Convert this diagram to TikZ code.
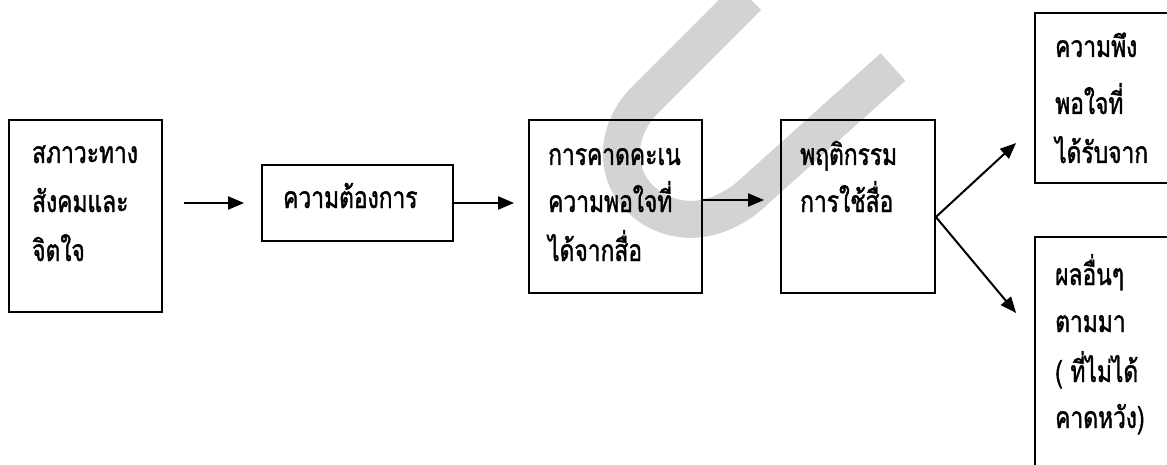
\documentclass[tikz,border=0pt]{standalone}
\usepackage{fontspec}
\newfontfamily\thaifont[Script=Thai, FakeStretch=0.76, FakeBold=1.3]{Loma}
\usetikzlibrary{arrows.meta,calc}
\definecolor{wm}{RGB}{211,211,211}
\tikzset{
  box/.style={draw, line width=1.8pt, inner sep=0pt},
  txt/.style={font=\thaifont\fontsize{30}{34}\selectfont, inner sep=0pt, anchor=base west},
  arr/.style={line width=2pt, -{Triangle[length=16pt,width=13pt]}}
}
\begin{document}
\begin{tikzpicture}[x=1pt,y=-1pt]
\useasboundingbox (0,0) rectangle (1167,465);
\begin{scope}
\clip (0,0) rectangle (1167,465);
% watermark band
\draw[wm, line width=37pt] (748,-3) -- (645,100) .. controls (612,133) and (612,185) .. (655,210)
  .. controls (688,228) and (722,218) .. (748,197) -- (893,67);
% boxes
\node[box, minimum width=153pt, minimum height=192pt] (b1) at (85.5,216) {};
\node[box, minimum width=191pt, minimum height=76pt] (b2) at (357.5,203) {};
\node[box, minimum width=173pt, minimum height=173pt] (b3) at (615.5,206.5) {};
\node[box, minimum width=154pt, minimum height=173pt] (b4) at (858,206.5) {};
\node[box, minimum width=132.5pt, minimum height=170pt] (b5) at (1101.25,98) {};
\node[box, minimum width=132.5pt, minimum height=243pt] (b6) at (1101.25,358.5) {};
\end{scope}
% texts
\node[txt] (t1a) at (32,163) {สภาวะทาง};
\node[txt] (t1b) at (32,212) {สังคมและ};
\node[txt] (t1c) at (32,261) {จิตใจ};
\node[txt] (t2a) at (283,208) {ความต้องการ};
\node[txt] (t3a) at (548,165) {การคาดคะเน};
\node[txt] (t3b) at (548,212) {ความพอใจที่};
\node[txt] (t3c) at (548,261) {ได้จากสื่อ};
\node[txt] (t4a) at (800,165) {พฤติกรรม};
\node[txt] (t4b) at (800,212) {การใช้สื่อ};
\node[txt] (t5a) at (1055,57) {ความพึง};
\node[txt] (t5b) at (1055,114) {พอใจที่};
\node[txt] (t5c) at (1055,163) {ได้รับจาก};
\node[txt] (t6a) at (1055,285) {ผลอื่นๆ};
\node[txt] (t6b) at (1055,332) {ตามมา};
\node[txt] (t6c) at (1055,382) {( ที่ไม่ได้};
\node[txt] (t6d) at (1055,428) {คาดหวัง)};
% connectors
\draw[arr, shorten <=21pt, shorten >=17pt] (b1.east |- b2.west) -- (b2.west);
\draw[arr, shorten >=14pt] (b2.east) -- (b2.east -| b3.west);
\draw[arr, shorten >=16pt] ([yshift=6.5pt]b3.east) -- ([yshift=6.5pt]b3.east -| b4.west);
\coordinate (j) at ([yshift=-10.5pt]b4.east);
\coordinate (p5) at ([shift={(-18,45)}]b5.west);
\coordinate (p6) at ([shift={(-18,-45.5)}]b6.west);
\draw[arr] (j) -- (p5);
\draw[arr] (j) -- (p6);
\end{tikzpicture}
\end{document}
